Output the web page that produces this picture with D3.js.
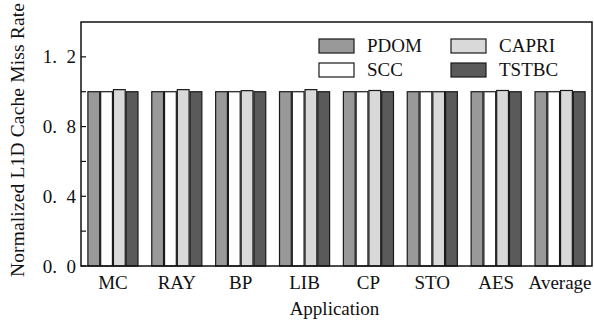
<!DOCTYPE html>
<html>
<head>
<meta charset="utf-8">
<script src="https://cdn.jsdelivr.net/npm/d3@7"></script>
<style>
  body { margin: 0; background: #fff; }
  text { font-family: "Liberation Serif", "Times New Roman", serif; fill: #111; }
</style>
</head>
<body>
<script>
const categories = ["MC", "RAY", "BP", "LIB", "CP", "STO", "AES", "Average"];
const seriesNames = ["PDOM", "SCC", "CAPRI", "TSTBC"];
const pdom  = [1.0, 1.0, 1.0, 1.0, 1.0, 1.0, 1.0, 1.0];
const scc   = [1.0, 1.0, 1.0, 1.0, 1.0, 1.0, 1.0, 1.0];
const capri = [1.012, 1.012, 1.006, 1.012, 1.007, 1.0, 1.007, 1.007];
const tstbc = [1.0, 1.0, 1.0, 1.0, 1.0, 1.0, 1.0, 1.0];
const yTicks = [0, 0.4, 0.8, 1.2];
const yMinor = [0.2, 0.6, 1.0];

const colors = ["#999999", "#ffffff", "#d9d9d9", "#5a5a5a"];
const values = [pdom, scc, capri, tstbc];

const width = 594, height = 327;
const margin = { top: 22, right: 2, bottom: 61, left: 81 };
const iw = width - margin.left - margin.right;
const ih = height - margin.top - margin.bottom;

const svg = d3.select("body").append("svg")
  .attr("width", width)
  .attr("height", height);

const g = svg.append("g")
  .attr("transform", `translate(${margin.left},${margin.top})`);

const x0 = d3.scaleBand()
  .domain(categories)
  .range([0, iw])
  .paddingInner(0.2)
  .paddingOuter(0.1);

const x1 = d3.scaleBand()
  .domain(seriesNames)
  .range([0, x0.bandwidth()]);

const y = d3.scaleLinear().domain([0, 1.4]).range([ih, 0]);

// bars
const groups = g.selectAll(".grp")
  .data(categories)
  .enter()
  .append("g")
  .attr("class", "grp")
  .attr("transform", d => `translate(${x0(d)},0)`);

groups.selectAll("rect")
  .data((d, i) => seriesNames.map((s, j) => ({ s, j, v: values[j][i] })))
  .enter()
  .append("rect")
  .attr("x", d => x1(d.s) + 0.5)
  .attr("y", d => y(d.v))
  .attr("width", x1.bandwidth() - 1)
  .attr("height", d => ih - y(d.v))
  .attr("fill", d => colors[d.j])
  .attr("stroke", "#1a1a1a")
  .attr("stroke-width", 1.2);

// frame
g.append("rect")
  .attr("x", 0).attr("y", 0)
  .attr("width", iw).attr("height", ih)
  .attr("fill", "none")
  .attr("stroke", "#111")
  .attr("stroke-width", 1.5);

// y axis (ticks inside)
const yAxis = g.append("g")
  .call(d3.axisLeft(y).tickValues(yTicks).tickSize(0).tickPadding(5)
    .tickFormat(d => d3.format(".1f")(d).replace(".", ".\u2002")));
yAxis.select(".domain").remove();
yAxis.selectAll("text").attr("font-size", 19);

g.selectAll(".ytick")
  .data(yTicks.concat(yMinor))
  .enter()
  .append("line")
  .attr("x1", 0).attr("x2", 5)
  .attr("y1", d => y(d)).attr("y2", d => y(d))
  .attr("stroke", "#111").attr("stroke-width", 1.2);

// x axis labels
const xAxis = g.append("g")
  .attr("transform", `translate(0,${ih})`)
  .call(d3.axisBottom(x0).tickSize(0).tickPadding(10));
xAxis.select(".domain").remove();
xAxis.selectAll("text").attr("font-size", 19);

// axis titles
svg.append("text")
  .attr("x", margin.left + iw / 2 - 2)
  .attr("y", 315)
  .attr("text-anchor", "middle")
  .attr("font-size", 19)
  .text("Application");

svg.append("text")
  .attr("transform", `translate(24,${margin.top + ih / 2 - 4}) rotate(-90)`)
  .attr("text-anchor", "middle")
  .attr("font-size", 19.5)
  .attr("letter-spacing", 0.15)
  .text("Normalized L1D Cache Miss Rate");

// legend
const legendPos = [[319, 39], [319, 63], [451, 39], [451, 63]];
const legend = svg.selectAll(".leg")
  .data(seriesNames)
  .enter()
  .append("g")
  .attr("class", "leg")
  .attr("transform", (d, i) => `translate(${legendPos[i][0]},${legendPos[i][1]})`);

legend.append("rect")
  .attr("width", 35).attr("height", 14)
  .attr("fill", (d, i) => colors[i])
  .attr("stroke", "#1a1a1a")
  .attr("stroke-width", 1.2);

legend.append("text")
  .attr("x", 48).attr("y", 13)
  .attr("font-size", 19)
  .text(d => d);
</script>
</body>
</html>
